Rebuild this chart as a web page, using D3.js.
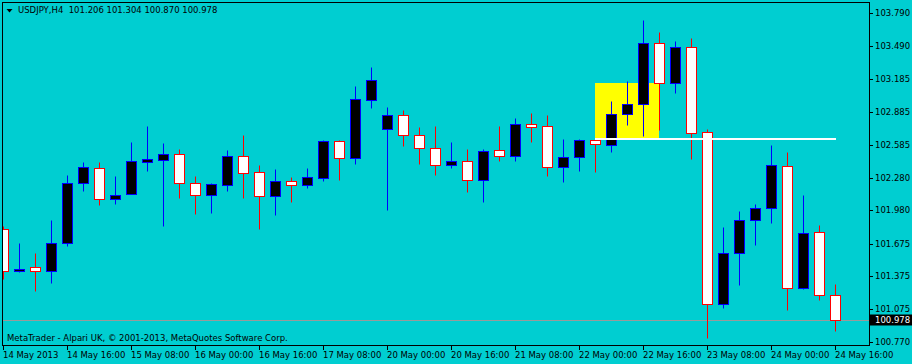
<!DOCTYPE html>
<html>
<head>
<meta charset="utf-8">
<script src="https://cdn.jsdelivr.net/npm/d3@7/dist/d3.min.js"></script>
<style>
  html, body { margin: 0; padding: 0; background: #00CED1; }
  svg { display: block; }
  text { font-family: "DejaVu Sans", Verdana, sans-serif; font-size: 8.5px; fill: #000; }
</style>
</head>
<body>
<script>
// ---------------- DATA ----------------
const symbol = "USDJPY,H4";
const copyright = "MetaTrader - Alpari UK, \u00A9 2001-2013, MetaQuotes Software Corp.";

const open = [101.807,101.422,101.458,101.422,101.679,102.230,102.367,102.083,102.134,102.428,
              102.446,102.496,102.230,102.125,102.217,102.477,102.331,102.116,102.248,102.217,
              102.281,102.615,102.464,102.997,102.731,102.854,102.670,102.551,102.395,102.431,
              102.257,102.532,102.477,102.774,102.753,102.376,102.468,102.624,102.578,102.863,
              102.955,103.515,103.147,103.478,102.698,101.119,101.587,101.890,102.000,102.386,
              101.266,101.780,101.206];
const high = [101.838,101.679,101.587,101.893,102.303,102.425,102.425,102.297,102.609,102.756,
              102.600,102.542,102.297,102.232,102.535,102.673,102.395,102.361,102.287,102.370,
              102.627,102.627,103.123,103.297,102.930,102.902,102.746,102.756,102.609,102.544,
              102.542,102.756,102.829,102.875,102.856,102.636,102.636,102.636,102.985,103.169,
              103.729,103.618,103.533,103.563,102.725,101.828,101.975,102.040,102.581,102.517,
              102.122,101.844,101.304];
const low  = [101.348,101.415,101.244,101.317,101.657,102.162,102.033,102.042,102.130,102.345,
              101.838,102.097,101.950,101.960,102.162,102.097,101.810,101.941,102.058,102.189,
              102.253,102.260,102.409,102.924,101.984,102.575,102.409,102.308,102.373,102.152,
              102.061,102.437,102.437,102.611,102.299,102.244,102.345,102.336,102.520,102.767,
              102.666,102.722,103.061,102.455,100.812,101.088,101.299,101.666,101.868,101.069,
              101.260,101.161,100.870];
const close = [101.422,101.446,101.422,101.684,102.230,102.376,102.083,102.125,102.431,102.450,
               102.496,102.230,102.125,102.220,102.477,102.327,102.110,102.248,102.217,102.285,
               102.615,102.464,103.001,103.175,102.854,102.670,102.551,102.395,102.431,102.257,
               102.523,102.477,102.771,102.749,102.376,102.468,102.624,102.588,102.863,102.955,
               103.515,103.147,103.478,102.694,101.119,101.587,101.890,102.000,102.395,101.266,
               101.771,101.206,100.978];

const timeLabels = ["14 May 2013","14 May 16:00","15 May 08:00","16 May 00:00","16 May 16:00",
                    "17 May 08:00","20 May 00:00","20 May 16:00","21 May 08:00","22 May 00:00",
                    "22 May 16:00","23 May 08:00","24 May 00:00","24 May 16:00"];
const timeLabelBars = [0,4,8,12,16,20,24,28,32,36,40,44,48,52];

const priceTicks = [103.790,103.490,103.185,102.885,102.585,102.280,101.980,101.675,101.375,101.075,100.770];

// drawn objects (price / bar coordinates)
const rectBars = [37, 41];
const rectPrices = [103.150, 102.635];
const lineBars = [37, 52];
const linePrice = 102.635;

// ---------------- CHART ----------------
const W = 912, H = 364;
const frame = {l: 2.5, t: 2.5, r: 869.5, b: 345.5};

const x = d3.scaleLinear().domain([0, 52]).range([3.5, 835.5]);
const y = d3.scaleLinear().domain([100.770, 103.790]).range([342.3, 13.3]);
const ry = v => Math.round(y(v)) + 0.5;

const svg = d3.select("body").append("svg").attr("width", W).attr("height", H);
svg.append("rect").attr("width", W).attr("height", H).attr("fill", "#00CED1");

svg.append("defs").append("clipPath").attr("id", "clip")
  .append("rect").attr("x", 3).attr("y", 3).attr("width", 866).attr("height", 342);

const plot = svg.append("g").attr("clip-path", "url(#clip)");

// yellow rectangle (background object)
plot.append("rect")
  .attr("x", x(rectBars[0]) - 0.5)
  .attr("y", Math.round(y(rectPrices[0])))
  .attr("width", x(rectBars[1]) - x(rectBars[0]))
  .attr("height", Math.round(y(rectPrices[1])) - Math.round(y(rectPrices[0])))
  .attr("fill", "#FFFF00");

// bid line
const last = close.length - 1;
plot.append("line")
  .attr("x1", 2).attr("x2", 869)
  .attr("y1", ry(close[last])).attr("y2", ry(close[last]))
  .attr("stroke", "#9a9a9a").attr("stroke-width", 1);

// candles
const idx = d3.range(open.length);
const bull = i => close[i] >= open[i];
const cg = plot.append("g").selectAll("g").data(idx).join("g");
cg.append("line")
  .attr("x1", i => x(i)).attr("x2", i => x(i))
  .attr("y1", i => ry(high[i])).attr("y2", i => ry(low[i]))
  .attr("stroke", i => bull(i) ? "#0000FF" : "#FF0000").attr("stroke-width", 1);
cg.append("rect")
  .attr("x", i => x(i) - 5)
  .attr("width", 10)
  .attr("y", i => ry(Math.max(open[i], close[i])))
  .attr("height", i => Math.max(1, ry(Math.min(open[i], close[i])) - ry(Math.max(open[i], close[i]))))
  .attr("fill", i => bull(i) ? "#000000" : "#FFFFFF")
  .attr("stroke", i => bull(i) ? "#0000FF" : "#FF0000").attr("stroke-width", 1);

// white horizontal line (foreground object)
plot.append("line")
  .attr("x1", x(lineBars[0]) - 0.5).attr("x2", x(lineBars[1]) + 0.5)
  .attr("y1", Math.round(y(linePrice)) ).attr("y2", Math.round(y(linePrice)))
  .attr("stroke", "#FFFFFF").attr("stroke-width", 2);

// frame
svg.append("rect")
  .attr("x", frame.l).attr("y", frame.t)
  .attr("width", frame.r - frame.l).attr("height", frame.b - frame.t)
  .attr("fill", "none").attr("stroke", "#000").attr("stroke-width", 1);

// right price axis
const ax = svg.append("g");
priceTicks.forEach(p => {
  const yy = Math.round(y(p)) + 0.5;
  ax.append("line").attr("x1", 869).attr("x2", 873).attr("y1", yy).attr("y2", yy)
    .attr("stroke", "#000");
  ax.append("text").attr("x", 875).attr("y", yy).attr("dy", "0.35em").text(p.toFixed(3));
});

// current price label
const cy = ry(close[last]);
svg.append("rect").attr("x", 870).attr("y", cy - 6).attr("width", 42).attr("height", 11).attr("fill", "#000");
svg.append("text").attr("x", 875).attr("y", cy).attr("dy", "0.35em")
  .style("fill", "#FFFFFF").text(close[last].toFixed(3));

// bottom time axis
timeLabels.forEach((t, k) => {
  const xx = x(timeLabelBars[k]);
  svg.append("line").attr("x1", xx).attr("x2", xx).attr("y1", 346).attr("y2", 350).attr("stroke", "#000");
  svg.append("text").attr("x", xx - 0.5).attr("y", 355).attr("dy", "0.35em").text(t);
});

// header
svg.append("path").attr("d", "M6.5,9 L12.5,9 L9.5,12.5 Z").attr("fill", "#000");
svg.append("text").attr("x", 18).attr("y", 10.5).attr("dy", "0.35em")
  .text(symbol + "  " + [open[last], high[last], low[last], close[last]].map(v => v.toFixed(3)).join(" "))
  .attr("xml:space", "preserve").style("white-space", "pre");

// copyright
svg.append("text").attr("x", 7).attr("y", 338).attr("dy", "0.35em").text(copyright);
</script>
</body>
</html>
